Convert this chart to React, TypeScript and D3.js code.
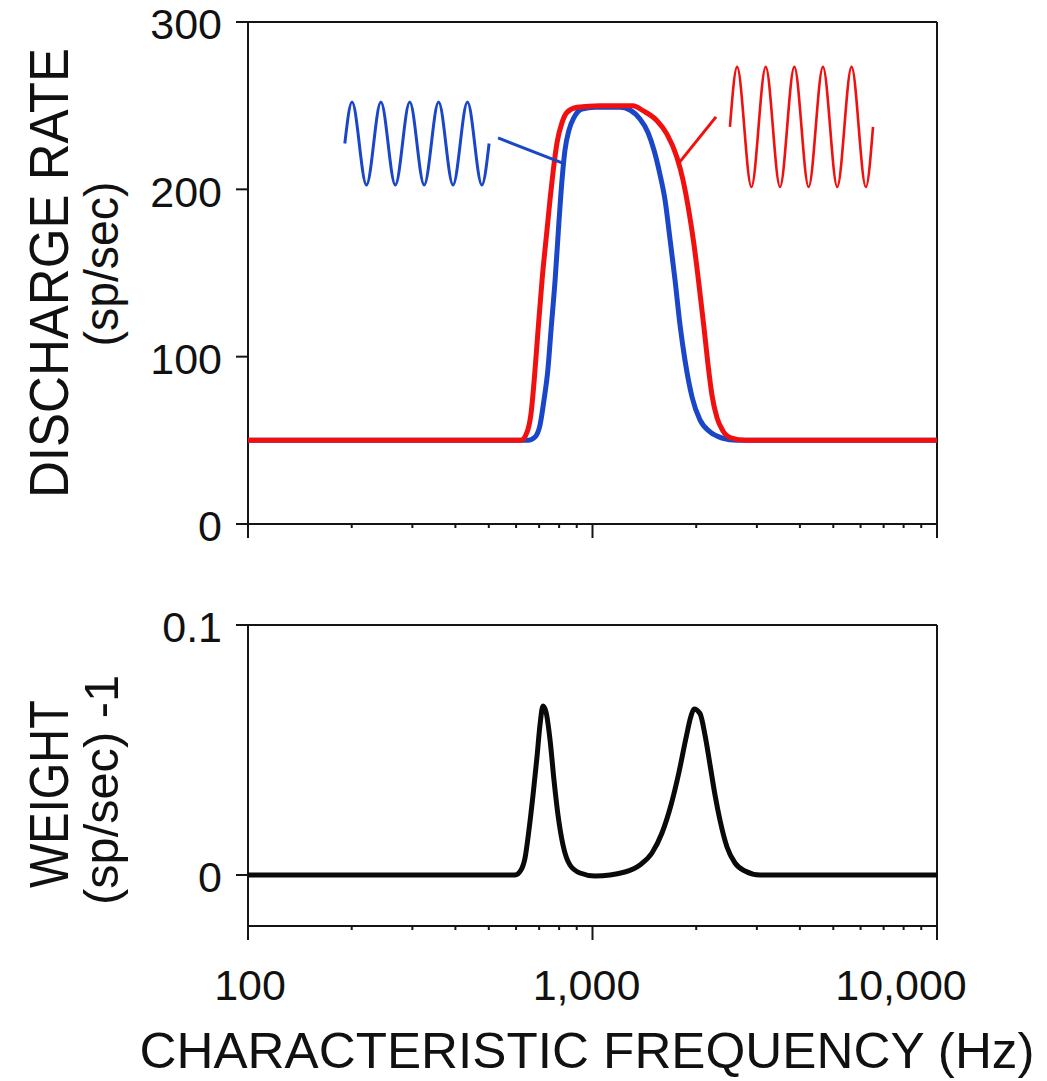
import React from "react";
import * as d3 from "d3";

// ---------- data ----------
const RED_CURVE: [number, number][] = [
  [100, 50], [620, 50], [646, 55], [663, 66], [681, 92], [695, 116], [714, 146], [738, 176],
  [753, 194], [768, 210], [789, 228], [816, 240], [843, 246], [902, 249], [1051, 250], [1311, 250],
  [1401, 247], [1539, 241], [1645, 233], [1759, 219], [1831, 205.6], [1906, 186.5], [1971, 166.8],
  [2038, 142.9], [2107, 117.3], [2165, 95], [2222, 77.1], [2299, 63.4], [2392, 55.6], [2524, 51.4],
  [2771, 50], [10000, 50],
];

const BLUE_CURVE: [number, number][] = [
  [100, 50], [650, 50], [681, 52], [704, 59], [723, 74], [742, 92], [758, 116], [779, 146],
  [800, 182], [816, 206], [832, 223.5], [855, 235.5], [884, 243], [932, 248], [1017, 249],
  [1200, 249], [1284, 247.4], [1373, 242], [1449, 234], [1508, 223.5], [1571, 208.6],
  [1624, 193.6], [1680, 169.7], [1736, 145.8], [1795, 118.9], [1855, 98], [1945, 75.9],
  [2051, 62.2], [2194, 55], [2375, 51.4], [2626, 50], [10000, 50],
];

const WEIGHT_CURVE: [number, number][] = [
  [100, 0], [596, 0], [620, 0.002], [637, 0.0068], [654, 0.018], [672, 0.032], [690, 0.0472],
  [704, 0.06], [718, 0.0676], [733, 0.0652], [753, 0.054], [773, 0.038], [794, 0.024],
  [821, 0.012], [860, 0.004], [920, 0.0008], [1017, -0.0004], [1242, 0.0012], [1373, 0.004],
  [1488, 0.0088], [1591, 0.0168], [1690, 0.028], [1783, 0.0412], [1868, 0.0548], [1932, 0.0636],
  [1971, 0.0664], [2051, 0.0646], [2121, 0.056], [2194, 0.044], [2268, 0.032], [2344, 0.022],
  [2457, 0.0112], [2592, 0.0048], [2771, 0.0016], [3064, 0], [10000, 0],
];

const TOP_Y_TICKS = [0, 100, 200, 300];
const BOT_Y_TICKS = [0, 0.1];
const BOT_Y_TICK_LABELS = ["0", "0.1"];
const X_LABEL_FREQS = [100, 1000, 10000];
const X_TICK_LABELS = ["100", "1,000", "10,000"];

// sine-wave glyph: position in cycles, normalized level
const WAVE_T = [0, 0.25, 0.5, 0.75, 1, 1.25, 1.5, 1.75, 2, 2.25, 2.5, 2.75, 3, 3.25, 3.5, 3.75, 4, 4.25, 4.5, 4.75, 5];
const WAVE_V = [0, 1, 0, -1, 0, 1, 0, -1, 0, 1, 0, -1, 0, 1, 0, -1, 0, 1, 0, -1, 0];

// ---------- layout ----------
const W = 1047;
const H = 1081;
const FONT = "'Liberation Sans', Arial, Helvetica, sans-serif";
const RED = "#f0100f";
const BLUE = "#1a46c8";
const INK = "#151515";

export default function App() {
  const x = d3.scaleLog().domain([100, 10000]).range([248, 937]);
  const yTop = d3.scaleLinear().domain([0, 300]).range([524, 22]);
  const yBot = d3.scaleLinear().domain([-0.0204, 0.1]).range([926, 625]);

  const topLine = d3
    .line<[number, number]>()
    .x((d) => x(d[0]))
    .y((d) => yTop(d[1]))
    .curve(d3.curveMonotoneX);
  const botLine = d3
    .line<[number, number]>()
    .x((d) => x(d[0]))
    .y((d) => yBot(d[1]))
    .curve(d3.curveMonotoneX);

  const xTicks = x.ticks();
  const isMajor = (t: number) => Math.abs(Math.log10(t) - Math.round(Math.log10(t))) < 1e-9;

  // wave glyph positioned in data coords of the top panel
  const wave = (f0: number, f1: number, mid: number, amp: number) => {
    const x0 = x(f0);
    const x1 = x(f1);
    const pts: [number, number][] = WAVE_T.map((t, i) => [
      x0 + (t / 5) * (x1 - x0),
      yTop(mid + amp * WAVE_V[i]),
    ]);
    return d3.line<[number, number]>().curve(d3.curveNatural)(pts) || "";
  };

  const xLabelOffsets = [2, -6, -36];

  const frame = (yT: number, yB: number) => (
    <g stroke={INK} strokeWidth={2} fill="none">
      <line x1={236} x2={x(10000)} y1={yT} y2={yT} />
      <line x1={x(10000)} x2={x(10000)} y1={yT} y2={yB} />
      <line x1={x(100)} x2={x(100)} y1={yT} y2={yB} />
      <line x1={x(100)} x2={x(10000)} y1={yB} y2={yB} />
      {xTicks.map((t, i) => (
        <line key={i} x1={x(t)} x2={x(t)} y1={yB} y2={yB + (isMajor(t) ? 14 : 4)} />
      ))}
    </g>
  );

  return (
    <svg
      width={W}
      height={H}
      viewBox={`0 0 ${W} ${H}`}
      style={{ position: "absolute", left: 0, top: 0, background: "#fff" }}
      fontFamily={FONT}
    >
      <rect x={0} y={0} width={W} height={H} fill="#fff" />

      {/* ---------- top panel ---------- */}
      {frame(yTop(300), yTop(0))}
      <g stroke={INK} strokeWidth={2}>
        {TOP_Y_TICKS.map((t) => (
          <line key={t} x1={236} x2={x(100)} y1={yTop(t)} y2={yTop(t)} />
        ))}
      </g>
      <g fontSize={43} fill="#111" textAnchor="end">
        {TOP_Y_TICKS.map((t) => (
          <text key={t} x={222} y={yTop(t)} dy="0.4em">
            {t}
          </text>
        ))}
      </g>

      <path d={topLine(BLUE_CURVE) || ""} fill="none" stroke={BLUE} strokeWidth={5} strokeLinejoin="round" />
      <path d={topLine(RED_CURVE) || ""} fill="none" stroke={RED} strokeWidth={5} strokeLinejoin="round" />

      {/* wave glyphs and connectors */}
      <path d={wave(191, 501, 227.4, 24.8)} fill="none" stroke={BLUE} strokeWidth={3} />
      <line x1={x(532)} y1={yTop(230.7)} x2={x(816)} y2={yTop(215.8)} stroke={BLUE} strokeWidth={3} />
      <path d={wave(2506, 6520, 237.3, 35.9)} fill="none" stroke={RED} strokeWidth={2.6} />
      <line x1={x(2283)} y1={yTop(243.3)} x2={x(1783)} y2={yTop(215.8)} stroke={RED} strokeWidth={3} />

      <text
        transform="translate(68,273) rotate(-90)"
        textAnchor="middle"
        fontSize={56}
        fill="#111"
        textLength={450}
        lengthAdjust="spacingAndGlyphs"
      >
        DISCHARGE RATE
      </text>
      <text
        transform="translate(118,264) rotate(-90)"
        textAnchor="middle"
        fontSize={48}
        fill="#111"
        textLength={165}
        lengthAdjust="spacingAndGlyphs"
      >
        (sp/sec)
      </text>

      {/* ---------- bottom panel ---------- */}
      {frame(yBot(0.1), yBot(-0.0204))}
      <g stroke={INK} strokeWidth={2}>
        {BOT_Y_TICKS.map((t) => (
          <line key={t} x1={236} x2={x(100)} y1={yBot(t)} y2={yBot(t)} />
        ))}
      </g>
      <g fontSize={43} fill="#111" textAnchor="end">
        {BOT_Y_TICKS.map((t, i) => (
          <text key={t} x={222} y={yBot(t)} dy="0.4em">
            {BOT_Y_TICK_LABELS[i]}
          </text>
        ))}
      </g>
      <path d={botLine(WEIGHT_CURVE) || ""} fill="none" stroke="#0a0a0a" strokeWidth={5} strokeLinejoin="round" />

      <text
        transform="translate(68,794) rotate(-90)"
        textAnchor="middle"
        fontSize={56}
        fill="#111"
        textLength={188}
        lengthAdjust="spacingAndGlyphs"
      >
        WEIGHT
      </text>
      <text
        transform="translate(118,790) rotate(-90)"
        textAnchor="middle"
        fontSize={48}
        fill="#111"
        textLength={230}
        lengthAdjust="spacingAndGlyphs"
      >
        (sp/sec) -1
      </text>

      {/* x tick labels */}
      <g fontSize={43} fill="#111" textAnchor="middle">
        {X_LABEL_FREQS.map((f, i) => (
          <text key={f} x={x(f) + xLabelOffsets[i]} y={1000}>
            {X_TICK_LABELS[i]}
          </text>
        ))}
      </g>

      <text
        x={587}
        y={1068}
        textAnchor="middle"
        fontSize={50}
        fill="#111"
        textLength={895}
        lengthAdjust="spacingAndGlyphs"
      >
        CHARACTERISTIC FREQUENCY (Hz)
      </text>
    </svg>
  );
}
